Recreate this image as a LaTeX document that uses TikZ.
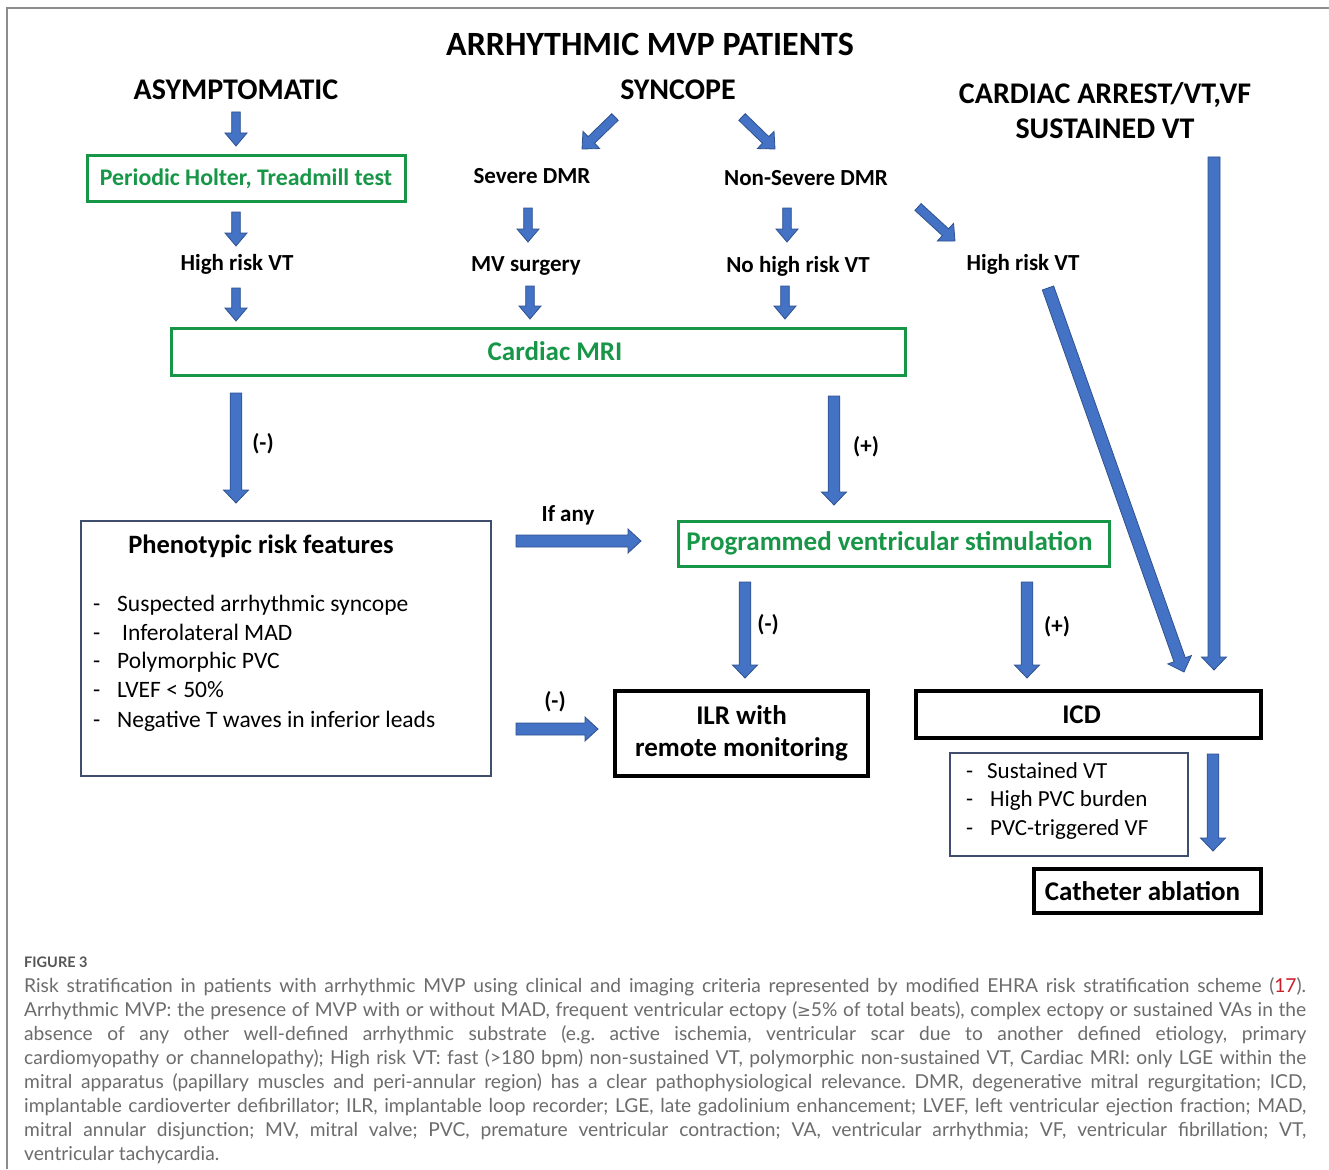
\documentclass[tikz,border=0pt]{standalone}
\usepackage{fontspec}
\setmainfont{Carlito}
\newfontfamily\capfont{Lato}
\newfontfamily\symf{DejaVu Sans}
\usetikzlibrary{calc}
\definecolor{mvpgreen}{RGB}{24,150,72}
\definecolor{arrfill}{RGB}{68,114,196}
\definecolor{arrline}{RGB}{47,82,143}
\definecolor{slate}{RGB}{62,78,108}
\definecolor{capgray}{RGB}{108,108,108}
\definecolor{capred}{RGB}{200,30,40}
\definecolor{framegray}{RGB}{140,140,140}
\newcommand\fs[2]{\fontsize{#1}{#2}\selectfont}
% block arrow: #1 shaft half width, #2 head half width, #3 start, #4 end
\newcommand\barrow[4]{%
  \path let \p1=($(#4)-(#3)$) in
    \pgfextra{%
      \pgfmathsetmacro\tmpL{veclen(\x1,\y1)}%
      \pgfmathsetmacro\tmpA{atan2(\y1,\x1)}%
      \xdef\bL{\tmpL}\xdef\bA{\tmpA}};
  \begin{scope}[shift={(#3)},rotate=\bA]
    \draw[barr] (0pt,-#1pt) -- (\bL pt-13pt,-#1pt) -- (\bL pt-13pt,-#2pt) -- (\bL pt,0pt)
      -- (\bL pt-13pt,#2pt) -- (\bL pt-13pt,#1pt) -- (0pt,#1pt) -- cycle;
  \end{scope}}
\tikzset{
  hdr/.style={font=\bfseries\fs{30}{35}, inner sep=0pt, align=center},
  lbl/.style={font=\bfseries\fs{23}{28}, inner sep=0pt},
  item/.style={font=\fs{23.5}{28}, inner sep=0pt, anchor=base west},
  gbox/.style={draw=mvpgreen, line width=3pt, text=mvpgreen, font=\bfseries\fs{27}{30}, inner sep=0pt},
  kbox/.style={draw=black, line width=3.5pt, font=\bfseries\fs{27}{32}, inner sep=0pt, align=center},
  tbox/.style={draw=slate, line width=1.6pt, inner sep=0pt},
  barr/.style={fill=arrfill, draw=arrline, line width=0.8pt, line join=miter},
}
\begin{document}
\begin{tikzpicture}[x=1pt,y=-1pt]
\useasboundingbox (0,0) rectangle (1329,1169);
\fill[white] (0,0) rectangle (1329,1169);
\draw[framegray, line width=1.5pt] (1329,8) -- (7,8) -- (7,1169);

% headers
\node[hdr, font=\bfseries\fs{34}{38}] (title) at (650,44) {ARRHYTHMIC MVP PATIENTS};
\node[hdr] (asym) at (236,90) {ASYMPTOMATIC};
\node[hdr] (sync) at (678,90) {SYNCOPE};
\node[hdr] (arrest) at (1105,111) {CARDIAC ARREST/VT,VF\\SUSTAINED VT};

% left column
\node[gbox, minimum width=318pt, minimum height=45pt, font=\bfseries\fs{23.8}{26}] (holter) at (246,178.5) {Periodic Holter, Treadmill test};
\node[lbl] (hr1) at (237,264) {High risk VT};

% syncope branch
\node[lbl] (sev) at (532,176) {Severe DMR};
\node[lbl] (nonsev) at (806,178) {Non-Severe DMR};
\node[lbl] (mvs) at (526,266) {MV surgery};
\node[lbl] (nohr) at (798,266) {No high risk VT};
\node[lbl] (hr2) at (1023,264) {High risk VT};

% Cardiac MRI
\node[gbox, minimum width=734pt, minimum height=47pt] (mri) at (538,351.5) {\hspace*{34pt}Cardiac MRI};
\node[lbl] (mneg) at (263,444) {(-)};
\node[lbl] (mpos) at (866,447) {(+)};

% phenotypic box
\node[tbox, minimum width=410pt, minimum height=255pt] (pheno) at (286,648.5) {};
\node[font=\bfseries\fs{26.5}{30}, inner sep=0pt] (phtitle) at (261,546) {Phenotypic risk features};
\foreach \txt/\yy [count=\i] in {Suspected arrhythmic syncope/611, \hspace*{5pt}Inferolateral MAD/640, Polymorphic PVC/668, LVEF < 50\%/697, Negative T waves in inferior leads/727}{
  \node[item] (ph\i) at (93,\yy) {\makebox[24pt][l]{-}\txt};
}

% PVS
\node[lbl] (ifany) at (568,515) {If any};
\node[gbox, minimum width=431pt, minimum height=45pt] (pvs) at (893.5,543.5) {\hspace*{-8pt}Programmed ventricular stimulation};
\node[lbl] (pneg) at (768,625) {(-)};
\node[lbl] (ppos) at (1057,627) {(+)};
\node[lbl] (fneg) at (555,702) {(-)};

% ILR, ICD
\node[kbox, minimum width=253pt, minimum height=85pt] (ilr) at (741.5,733.5) {ILR with\\remote monitoring};
\node[kbox, minimum width=345pt, minimum height=47pt] (icd) at (1088.5,714.5) {\hspace*{-14pt}ICD};
\node[tbox, minimum width=238pt, minimum height=103pt] (icdl) at (1069,804.5) {};
\node[item, font=\fs{23}{28}] (ic1) at (966,778) {\makebox[21pt][l]{-}Sustained VT};
\node[item, font=\fs{23}{28}] (ic2) at (966,806.5) {\makebox[24pt][l]{-}High PVC burden};
\node[item, font=\fs{23}{28}] (ic3) at (966,835) {\makebox[24pt][l]{-}PVC-triggered VF};
\node[kbox, minimum width=227pt, minimum height=44pt] (cath) at (1147.5,891) {\hspace*{-10pt}Catheter ablation};

% arrow end points
\coordinate (a1s) at (236,112);  \coordinate (a1e) at (236,146);
\coordinate (a2s) at (236,212);  \coordinate (a2e) at (236,246);
\coordinate (a3s) at (236,288);  \coordinate (a3e) at (236,321);
\coordinate (sls) at (615,117);  \coordinate (sle) at (582,149);
\coordinate (srs) at (742,117);  \coordinate (sre) at (775,149);
\coordinate (a4s) at (528,208);  \coordinate (a4e) at (528,242);
\coordinate (a5s) at (530,286);  \coordinate (a5e) at (530,319);
\coordinate (a6s) at (787,208);  \coordinate (a6e) at (787,242);
\coordinate (a7s) at (785,286);  \coordinate (a7e) at (785,319);
\coordinate (nds) at (918,207);  \coordinate (nde) at (955,241);
\coordinate (mns) at (236,393);  \coordinate (mne) at (236,503);
\coordinate (mps) at (834,396);  \coordinate (mpe) at (834,505);
\coordinate (ias) at (516,541);  \coordinate (iae) at (641,541);
\coordinate (pns) at (745,582);  \coordinate (pne) at (745,678);
\coordinate (pps) at (1027,582); \coordinate (ppe) at (1027,678);
\coordinate (fns) at (516,729);  \coordinate (fne) at (598,729);
\coordinate (hds) at (1048,288); \coordinate (hde) at (1184,672);
\coordinate (cas) at (1214,157); \coordinate (cae) at (1214,670);
\coordinate (ics) at (1213,754); \coordinate (ice) at (1213,851);

\barrow{4.3}{11}{a1s}{a1e}
\barrow{4.3}{11}{a2s}{a2e}
\barrow{4.3}{11}{a3s}{a3e}
\barrow{4.6}{12}{sls}{sle}
\barrow{4.6}{12}{srs}{sre}
\barrow{4.3}{11}{a4s}{a4e}
\barrow{4.3}{11}{a5s}{a5e}
\barrow{4.3}{11}{a6s}{a6e}
\barrow{4.3}{11}{a7s}{a7e}
\barrow{4.6}{12}{nds}{nde}
\barrow{5.8}{12.5}{mns}{mne}
\barrow{5.8}{12.5}{mps}{mpe}
\barrow{6}{12}{ias}{iae}
\barrow{5.8}{12.5}{pns}{pne}
\barrow{5.8}{12.5}{pps}{ppe}
\barrow{6}{12}{fns}{fne}
\barrow{6}{12.5}{hds}{hde}
\barrow{6}{12.5}{cas}{cae}
\barrow{5.8}{12.5}{ics}{ice}

% caption
\node[anchor=west, inner sep=0pt, font=\capfont\bfseries\fs{14.5}{16}, text={rgb,255:red,85;green,85;blue,85}] (figlab) at (24,962) {FIGURE 3};
\node[anchor=north west, inner sep=0pt, text width=1282pt, align=justify, font=\capfont\fs{19.2}{24}\frenchspacing, text=capgray] (cap) at (24,977) {Risk stratification in patients with arrhythmic MVP using clinical and imaging criteria represented by modified EHRA risk stratification scheme (\textcolor{capred}{17}).\linebreak
Arrhythmic MVP: the presence of MVP with or without MAD, frequent ventricular ectopy ({\symf\fs{16.5}{24}≥}5\% of total beats), complex ectopy or sustained VAs in the\linebreak
absence of any other well-defined arrhythmic substrate (e.g. active ischemia, ventricular scar due to another defined etiology, primary\linebreak
cardiomyopathy or channelopathy); High risk VT: fast (>180 bpm) non-sustained VT, polymorphic non-sustained VT, Cardiac MRI: only LGE within the\linebreak
mitral apparatus (papillary muscles and peri-annular region) has a clear pathophysiological relevance. DMR, degenerative mitral regurgitation; ICD,\linebreak
implantable cardioverter defibrillator; ILR, implantable loop recorder; LGE, late gadolinium enhancement; LVEF, left ventricular ejection fraction; MAD,\linebreak
mitral annular disjunction; MV, mitral valve; PVC, premature ventricular contraction; VA, ventricular arrhythmia; VF, ventricular fibrillation; VT,\linebreak
ventricular tachycardia.};
\end{tikzpicture}
\end{document}
